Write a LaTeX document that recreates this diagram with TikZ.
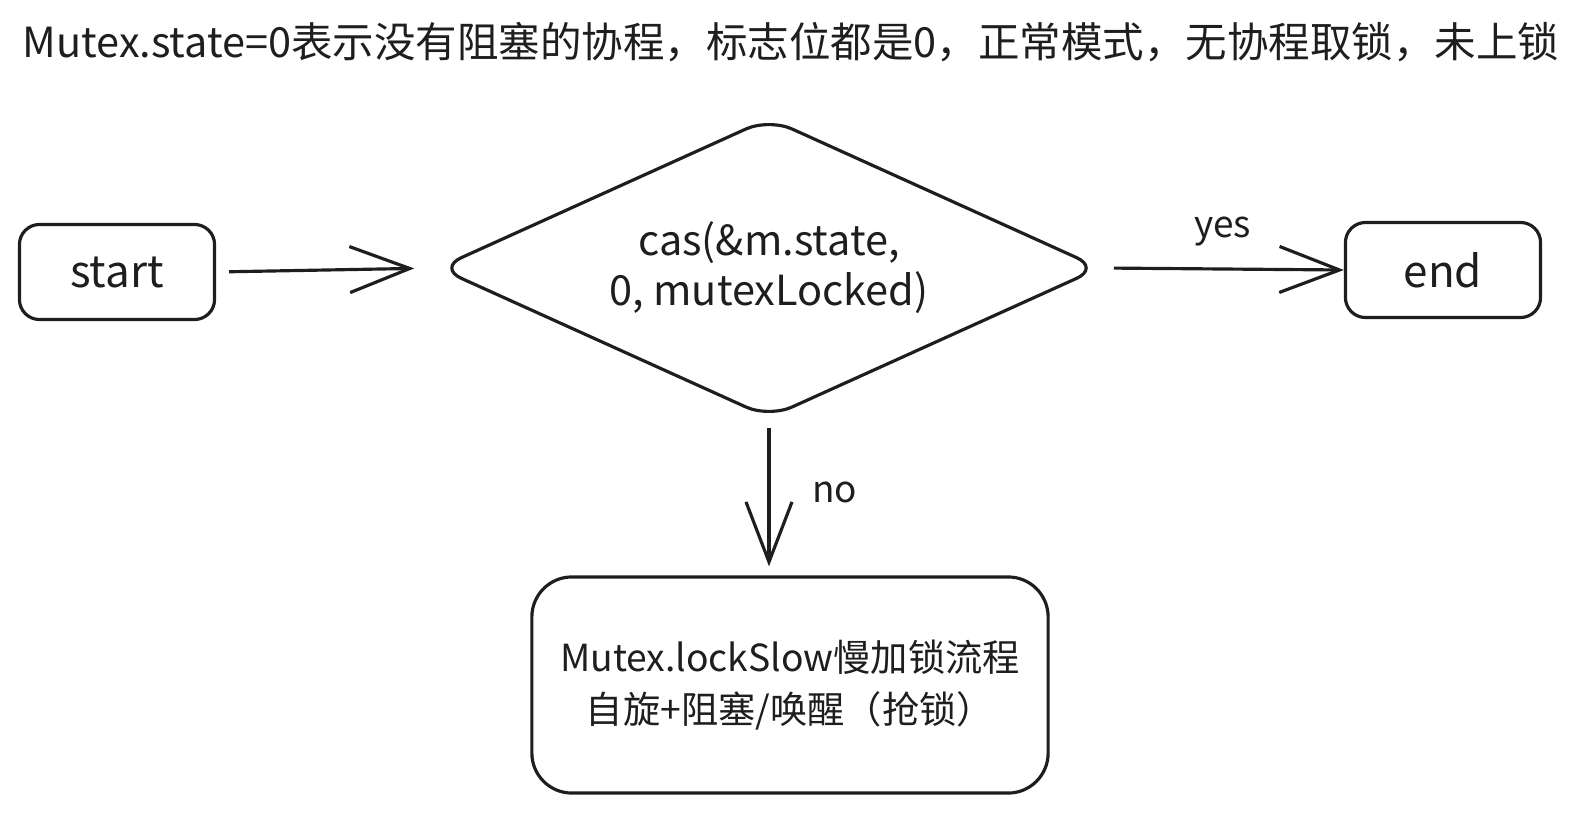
\documentclass[tikz,border=0pt]{standalone}
\usepackage{fontspec}
\setmainfont{Noto Sans CJK SC}
\usetikzlibrary{shapes.geometric,arrows.meta}
\definecolor{ink}{HTML}{1E1E1E}
\tikzset{
  box/.style={draw=ink, line width=0.9pt, rounded corners=0.2cm, minimum width=1.95cm, minimum height=0.95cm, text=ink, font=\fontsize{12.5pt}{15pt}\selectfont},
  decision/.style={diamond, draw=ink, line width=0.9pt, rounded corners=0.25cm, aspect=2.2, inner sep=0pt, minimum width=6.62cm, minimum height=3.0cm, align=center, text=ink, font=\fontsize{11.8pt}{14.2pt}\selectfont},
  flow/.style={draw=ink, line width=0.9pt, -{Straight Barb[length=0.6cm, width=0.46cm]}},
  lab/.style={text=ink, font=\fontsize{10.5pt}{12pt}\selectfont},
}

\begin{document}
\begin{tikzpicture}[x=0.01cm, y=-0.01cm]
  \useasboundingbox (0,0) rectangle (1578,818);
  \node[text=ink, font=\fontsize{11.8pt}{14pt}\selectfont] (title) at (791,42) {Mutex.state=0表示没有阻塞的协程，标志位都是0，正常模式，无协程取锁，未上锁};
  \node[box] (start) at (117,272) {start};
  \node[decision] (cas) at (769,268) {cas(\&m.state,\\0, mutexLocked)};
  \node[box] (done) at (1443,270) {end};
  \node[box, minimum width=5.16cm, minimum height=2.16cm, rounded corners=0.4cm, align=center, font=\fontsize{10.6pt}{15pt}\selectfont] (slow) at (790,685) {Mutex.lockSlow慢加锁流程\\自旋+阻塞/唤醒（抢锁）};
  \draw[flow, shorten <=0.13cm, shorten >=0.22cm] (start.east) -- (cas.west);
  \draw[flow, shorten <=0.12cm] (cas.east) -- node[lab, above=0.1cm] {yes} (done.west);
  \draw[flow, shorten <=0.08cm, shorten >=0.09cm] (cas.south) -- node[lab, right=0.3cm, pos=0.47] {no} (cas.south |- slow.north);
\end{tikzpicture}
\end{document}
